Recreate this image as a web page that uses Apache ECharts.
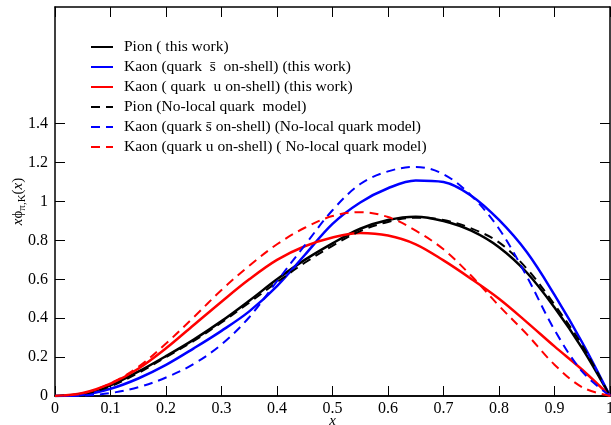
<!DOCTYPE html>
<html>
<head>
<meta charset="utf-8">
<script src="https://cdn.jsdelivr.net/npm/echarts@6/dist/echarts.min.js"></script>
<style>
  html, body { margin: 0; padding: 0; background: #fff; }
  #main { width: 611px; height: 425px; }
</style>
</head>
<body>
<div id="main"></div>
<script>
// x grid the curves were read on
const xs = [0, 0.05, 0.1, 0.15, 0.2, 0.25, 0.3, 0.35, 0.4, 0.45, 0.5,
            0.55, 0.6, 0.65, 0.7, 0.75, 0.8, 0.85, 0.9, 0.95, 1];

// this work
const pionThis  = [0, 0.012, 0.055, 0.125, 0.205, 0.29, 0.385, 0.49, 0.6, 0.70, 0.785,
                   0.86, 0.905, 0.922, 0.9, 0.85, 0.765, 0.635, 0.455, 0.245, 0];
const kaonSThis = [0, 0.006, 0.037, 0.09, 0.16, 0.245, 0.335, 0.435, 0.565, 0.725, 0.885,
                   0.995, 1.068, 1.108, 1.1, 1.03, 0.905, 0.74, 0.52, 0.275, 0];
const kaonUThis = [0, 0.015, 0.063, 0.14, 0.245, 0.365, 0.485, 0.6, 0.7, 0.77, 0.815,
                   0.838, 0.825, 0.78, 0.697, 0.602, 0.5, 0.38, 0.255, 0.135, 0];

// no-local quark model
const pionNL  = [0, 0.01, 0.05, 0.118, 0.2, 0.283, 0.378, 0.48, 0.585, 0.685, 0.772,
                 0.848, 0.895, 0.917, 0.905, 0.862, 0.79, 0.655, 0.47, 0.26, 0];
const kaonSNL = [0, 0.002, 0.015, 0.045, 0.095, 0.165, 0.265, 0.405, 0.59, 0.775, 0.955,
                 1.09, 1.155, 1.178, 1.14, 1.03, 0.86, 0.615, 0.34, 0.125, 0];
const kaonUNL = [0, 0.013, 0.065, 0.15, 0.27, 0.405, 0.545, 0.67, 0.78, 0.865, 0.925,
                 0.945, 0.92, 0.85, 0.754, 0.618, 0.464, 0.318, 0.161, 0.045, 0];

const names = [
    'Pion ( this work)',
    'Kaon (quark  s\u0304  on-shell) (this work)',
    'Kaon ( quark  u on-shell) (this work)',
    'Pion (No-local quark  model)',
    'Kaon (quark s\u0304 on-shell) (No-local quark model)',
    'Kaon (quark u on-shell) ( No-local quark model)'
];

const yTicks = [0, 0.2, 0.4, 0.6, 0.8, 1, 1.2, 1.4];

const font = 'Liberation Serif';
const pairs = arr => xs.map((x, i) => [x, arr[i]]);

const mk = (name, arr, color, dashed) => ({
    name: name,
    type: 'line',
    data: pairs(arr),
    smooth: 0.35,
    symbol: 'none',
    showSymbol: false,
    lineStyle: {
        color: color,
        width: dashed ? 2 : 2.5,
        type: dashed ? [9, 6] : 'solid'
    },
    itemStyle: {color: color}
});

const chart = echarts.init(document.getElementById('main'));

const option = {
    animation: false,
    backgroundColor: '#fff',
    grid: {left: 55, right: 1, top: 7, bottom: 29, outerBoundsMode: 'none'},
    legend: {
        orient: 'vertical',
        left: 85,
        top: 34,
        itemWidth: 22,
        itemHeight: 14,
        itemGap: 4,
        itemStyle: {opacity: 0},
        textStyle: {fontFamily: font, fontSize: 15.5, color: '#000', padding: [0, 0, 0, 6]},
        data: names
    },
    xAxis: [{
        type: 'value',
        min: 0, max: 1, interval: 0.1,
        name: 'x',
        nameLocation: 'middle',
        nameGap: 18,
        nameMoveOverlap: false,
        nameTextStyle: {fontFamily: font, fontSize: 15, fontStyle: 'italic', color: '#000'},
        axisLine: {lineStyle: {color: '#000', width: 1.5}},
        axisTick: {inside: true, length: 10, lineStyle: {color: '#000'}},
        axisLabel: {fontFamily: font, fontSize: 16, color: '#000', margin: 5},
        splitLine: {show: false}
    }, {
        type: 'value',
        position: 'top',
        min: 0, max: 1, interval: 0.1,
        axisLine: {onZero: false, lineStyle: {color: '#000', width: 1.5}},
        axisTick: {inside: true, length: 10, lineStyle: {color: '#000'}},
        axisLabel: {show: false},
        splitLine: {show: false}
    }, {
        // bottom tick marks, drawn again so they always show
        type: 'value',
        position: 'bottom',
        min: 0, max: 1, interval: 0.1,
        axisLine: {onZero: false, lineStyle: {color: '#000', width: 1.5}},
        axisTick: {inside: true, length: 10, lineStyle: {color: '#000'}},
        axisLabel: {show: false},
        splitLine: {show: false}
    }],
    yAxis: [{
        type: 'value',
        min: 0, max: 2, interval: 0.2,
        name: '{i|x}\u03d5{sub|\u03c0,K}({i|x})',
        nameLocation: 'middle',
        nameGap: 27,
        nameMoveOverlap: false,
        nameTextStyle: {
            fontFamily: font, fontSize: 15, color: '#000',
            rich: {
                i: {fontFamily: font, fontSize: 15, fontStyle: 'italic', color: '#000'},
                sub: {fontFamily: font, fontSize: 11, color: '#000', verticalAlign: 'bottom', padding: [8, 0, 0, 0]}
            }
        },
        axisLine: {lineStyle: {color: '#000', width: 1.5}},
        axisTick: {inside: true, length: 10, customValues: yTicks, lineStyle: {color: '#000'}},
        axisLabel: {
            fontFamily: font, fontSize: 16, color: '#000', margin: 7,
            customValues: yTicks,
            formatter: v => String(+v.toFixed(1))
        },
        splitLine: {show: false}
    }, {
        type: 'value',
        position: 'right',
        min: 0, max: 2, interval: 0.2,
        axisLine: {onZero: false, lineStyle: {color: '#000', width: 1.5}},
        axisTick: {inside: true, length: 10, customValues: yTicks, lineStyle: {color: '#000'}},
        axisLabel: {show: false},
        splitLine: {show: false}
    }],
    series: [
        mk(names[0], pionThis, '#000000', false),
        mk(names[1], kaonSThis, '#0000ff', false),
        mk(names[2], kaonUThis, '#ff0000', false),
        mk(names[3], pionNL, '#000000', true),
        mk(names[4], kaonSNL, '#0000ff', true),
        mk(names[5], kaonUNL, '#ff0000', true)
    ]
};

chart.setOption(option);
</script>
</body>
</html>
